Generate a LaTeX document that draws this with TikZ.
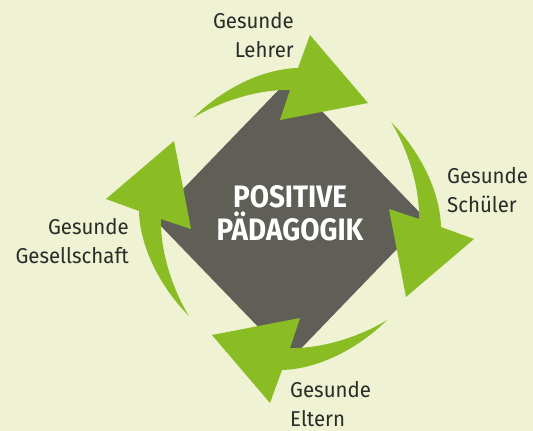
\documentclass[tikz,border=0pt]{standalone}
\usepackage{xcolor}
\usepackage{fontspec}
\usepackage{tikz}
\usetikzlibrary{shapes}
\newfontfamily\labelfont[FakeStretch=0.95]{Fira Sans}
\newfontfamily\corefont[FakeStretch=0.9]{Fira Sans}
\definecolor{bgyellow}{HTML}{EFF2D3}
\definecolor{leafgreen}{HTML}{8ABD24}
\definecolor{slategray}{HTML}{605F57}
\definecolor{inkgray}{HTML}{2B2B28}
\tikzset{
  cyclearrow/.pic={
    \fill[leafgreen] (-97,101) .. controls (-70,128) and (-30,150) .. (8,151)
      -- (20,184) -- (78,116) -- (-10,99) -- (0,129)
      .. controls (-35,130) and (-75,115) .. (-97,101) -- cycle;
  }
}

\begin{document}
\begin{tikzpicture}[x=1pt, y=1pt,
                    core/.style = {diamond, fill=slategray, minimum width=272pt, minimum height=282pt, inner sep=0pt},
                    coretext/.style = {text=white, align=center, inner sep=0pt, font=\corefont\bfseries\fontsize{31}{33}\selectfont},
                    labeltext/.style = {text=inkgray, inner sep=0pt, font=\labelfont\fontsize{21.5}{29}\selectfont}]
	\fill[bgyellow] (-290,-212) rectangle (243,219);
	\useasboundingbox (-290,-212) rectangle (243,219);

	\node[core] (hub) at (0,0) {};
	\node[coretext] (hubtext) at (0,6) {POSITIVE\\PÄDAGOGIK};

	\pic (toparrow) at (0,0) {cyclearrow};
	\pic[rotate=-90] (rightarrow) at (0,0) {cyclearrow};
	\pic[rotate=-180] (bottomarrow) at (0,0) {cyclearrow};
	\pic[rotate=-270] (leftarrow) at (0,0) {cyclearrow};

	\node[labeltext, align=right, anchor=east] (lehrer) at (4,184) {Gesunde\\Lehrer};
	\node[labeltext, align=left, anchor=west] (schueler) at (157,29) {Gesunde\\Schüler};
	\node[labeltext, align=left, anchor=west] (eltern) at (0,-185) {Gesunde\\Eltern};
	\node[labeltext, align=right, anchor=east] (gesellschaft) at (-161,-22) {Gesunde\\Gesellschaft};
\end{tikzpicture}
\end{document}
